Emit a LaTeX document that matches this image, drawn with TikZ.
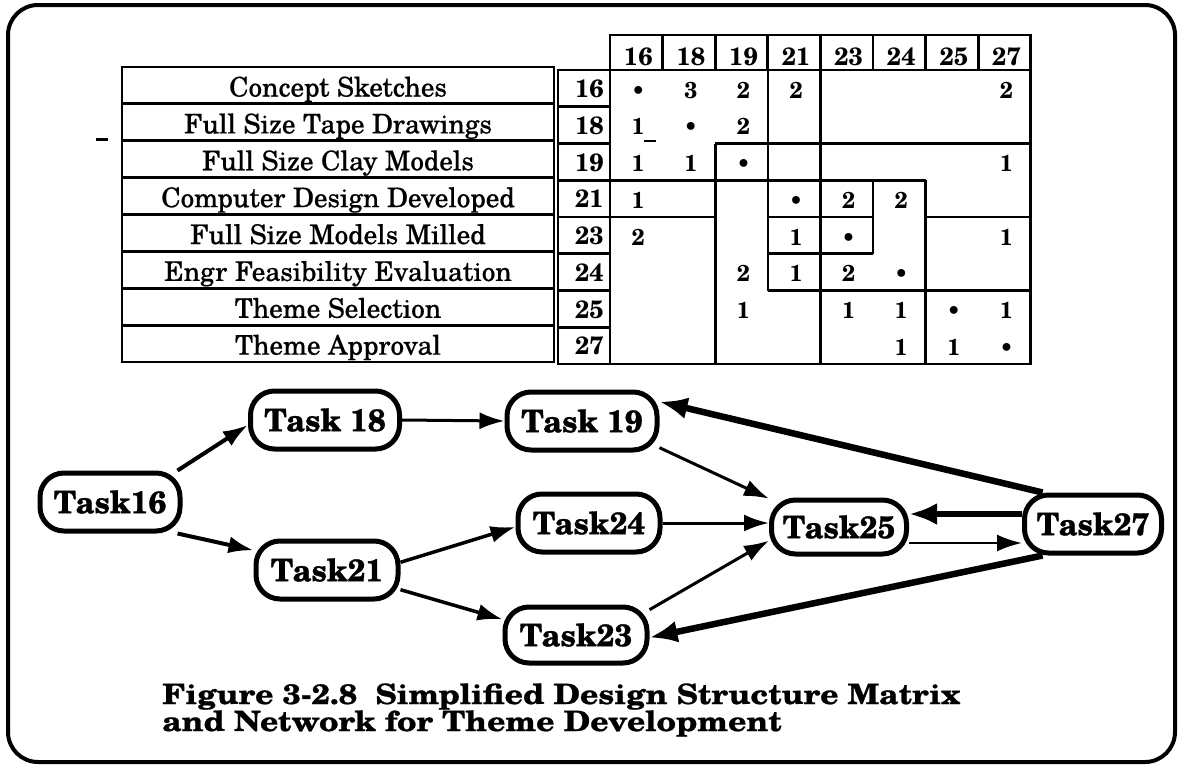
\documentclass[tikz,border=0pt]{standalone}
\usepackage{fontspec}
\setmainfont{texgyreschola}[Extension=.otf, UprightFont=*-regular, BoldFont=*-bold, ItalicFont=*-italic, BoldItalicFont=*-bolditalic]
\usetikzlibrary{arrows.meta,calc}
\begin{document}
\begin{tikzpicture}[x=1pt,y=-1pt,
  task/.style={draw, line width=5pt, rounded corners=24pt, minimum height=58pt, inner sep=0pt, font=\fontsize{31}{31}\selectfont\bfseries\addfontfeature{FakeBold=1}},
  tbl/.style={line width=2.8pt},
  mline/.style={line width=2.6pt},
  cell/.style={font=\fontsize{23}{23}\selectfont\bfseries, inner sep=0pt},
  num/.style={font=\fontsize{25}{25}\selectfont\bfseries, inner sep=0pt},
  lab/.style={font=\fontsize{27}{27}\selectfont\addfontfeature{FakeBold=0.6}, inner sep=0pt},
  capt/.style={font=\fontsize{28}{28}\selectfont\bfseries\addfontfeature{FakeBold=0.8}, inner sep=0pt},
  arr/.style={line width=3pt, -{Latex[length=25pt,width=17pt]}},
  thickarr/.style={line width=6.5pt, -{Latex[length=28pt,width=22pt]}},
]
\useasboundingbox (0,0) rectangle (1181,766);
% outer frame
\draw[line width=4pt, rounded corners=30pt] (8,5) rectangle (1175,762);

% ---------- label table ----------
\draw[tbl] (122,67) rectangle (554,362);
\foreach \j in {1,...,7} \draw[tbl] (122,{67+36.875*\j}) -- (554,{67+36.875*\j});
\foreach \t [count=\j from 0] in {Concept Sketches, Full Size Tape Drawings, Full Size Clay Models, Computer Design Developed, Full Size Models Milled, Engr Feasibility Evaluation, Theme Selection, Theme Approval}
  \node[lab, anchor=base] (lab\j) at (338, {67+36.875*\j+29.5}) {\t};

% ---------- row numbers ----------
\draw[tbl] (558,70) rectangle (610,364);
\foreach \j in {1,...,7} \draw[tbl] (558,{70+36.75*\j}) -- (610,{70+36.75*\j});
\foreach \n [count=\j from 0] in {16,18,19,21,23,24,25,27}
  \node[num, anchor=base east] (rn\n) at (604, {70+36.75*\j+27.5}) {\n};

% ---------- column headers ----------
\draw[tbl] (610,35) rectangle (1030.8,70);
\foreach \i in {1,...,7} \draw[tbl] ({610+52.6*\i},35) -- ({610+52.6*\i},70);
\foreach \n [count=\i from 0] in {16,18,19,21,23,24,25,27}
  \node[num, anchor=base] (hd\n) at ({610+52.6*(\i+0.5)+2}, 65.5) {\n};

% ---------- matrix body ----------
\draw[tbl] (610,70) rectangle (1030.8,364);
\draw[mline] (767.8,70) -- (767.8,290.5);
\draw[mline] (820.4,70) -- (820.4,364);
\draw[mline] (715.2,143.5) -- (715.2,364);
\draw[mline] (873,180.25) -- (873,253.75);
\draw[mline] (925.6,180.25) -- (925.6,364);
\draw[mline] (715.2,143.5) -- (1030.8,143.5);
\draw[mline] (610,180.25) -- (925.6,180.25);
\draw[mline] (610,217) -- (715.2,217);
\draw[mline] (767.8,217) -- (873,217);
\draw[mline] (925.6,217) -- (1030.8,217);
\draw[mline] (767.8,253.75) -- (873,253.75);
\draw[mline] (767.8,290.5) -- (1030.8,290.5);

\foreach \r/\c/\v in {0/0/\textbullet, 0/1/3, 0/2/2, 0/3/2, 0/7/2,
  1/0/1, 1/1/\textbullet, 1/2/2,
  2/0/1, 2/1/1, 2/2/\textbullet, 2/7/1,
  3/0/1, 3/3/\textbullet, 3/4/2, 3/5/2,
  4/0/2, 4/3/1, 4/4/\textbullet, 4/7/1,
  5/2/2, 5/3/1, 5/4/2, 5/5/\textbullet,
  6/2/1, 6/4/1, 6/5/1, 6/6/\textbullet, 6/7/1,
  7/5/1, 7/6/1, 7/7/\textbullet}
  \node[cell, anchor=base] (m\r\c) at ({610+52.6*(\c+0.5)+2}, {70+36.75*\r+28}) {\v};

% scan marks
\draw[line width=3pt] (96,139) -- (108,139);
\draw[line width=1.5pt] (644,141) -- (656,141);

% ---------- network ----------
\node[task, minimum width=140pt] (T16) at (110,502) {Task16};
\node[task, minimum width=149pt] (T18) at (325,420) {Task 18};
\node[task, minimum width=150pt] (T19) at (582,421) {Task 19};
\node[task, minimum width=142pt] (T21) at (327,570) {Task21};
\node[task, minimum width=142pt] (T24) at (589,523) {Task24};
\node[task, minimum width=142pt, minimum height=56pt] (T23) at (576,635) {Task23};
\node[task, minimum width=135pt, minimum height=54pt] (T25) at (839,527) {Task25};
\node[task, minimum width=137pt] (T27) at (1093,524) {Task27};

\draw[arr, line width=4pt] (T16.25) -- ($(T18.west)+(0,5)$);
\draw[arr] (T18.east) -- (T19.west);
\draw[arr, line width=4pt] (T16.-25) -- (T21.165);
\draw[arr, line width=3.5pt] (T21.6) -- (T24.183);
\draw[arr, line width=3.5pt] (T21.-15) -- (T23.168);
\draw[arr] (T19.-19) -- (T25.158);
\draw[arr] (T24.east) -- (T24.east -| T25.west);
\draw[arr] (T23.19) -- (T25.191);
\draw[arr, line width=2.5pt] ([yshift=-16pt]T25.east) -- ([yshift=-16pt]T25.east -| T27.west);
\draw[thickarr] ([yshift=10pt]T27.west) -- ([yshift=10pt]T27.west -| T25.east);
\draw[thickarr] (T27.148) -- (T19.14);
\draw[thickarr] (T27.-148) -- (T23.-2);

% ---------- caption ----------
\node[capt, anchor=base west] (cap1) at (162,704) {\scalebox{1.14}[1]{Figure 3-2.8\ \ Simplified Design Structure Matrix}};
\node[capt, anchor=base west] (cap2) at (162,731) {\scalebox{1.14}[1]{and Network for Theme Development}};
\end{tikzpicture}
\end{document}
